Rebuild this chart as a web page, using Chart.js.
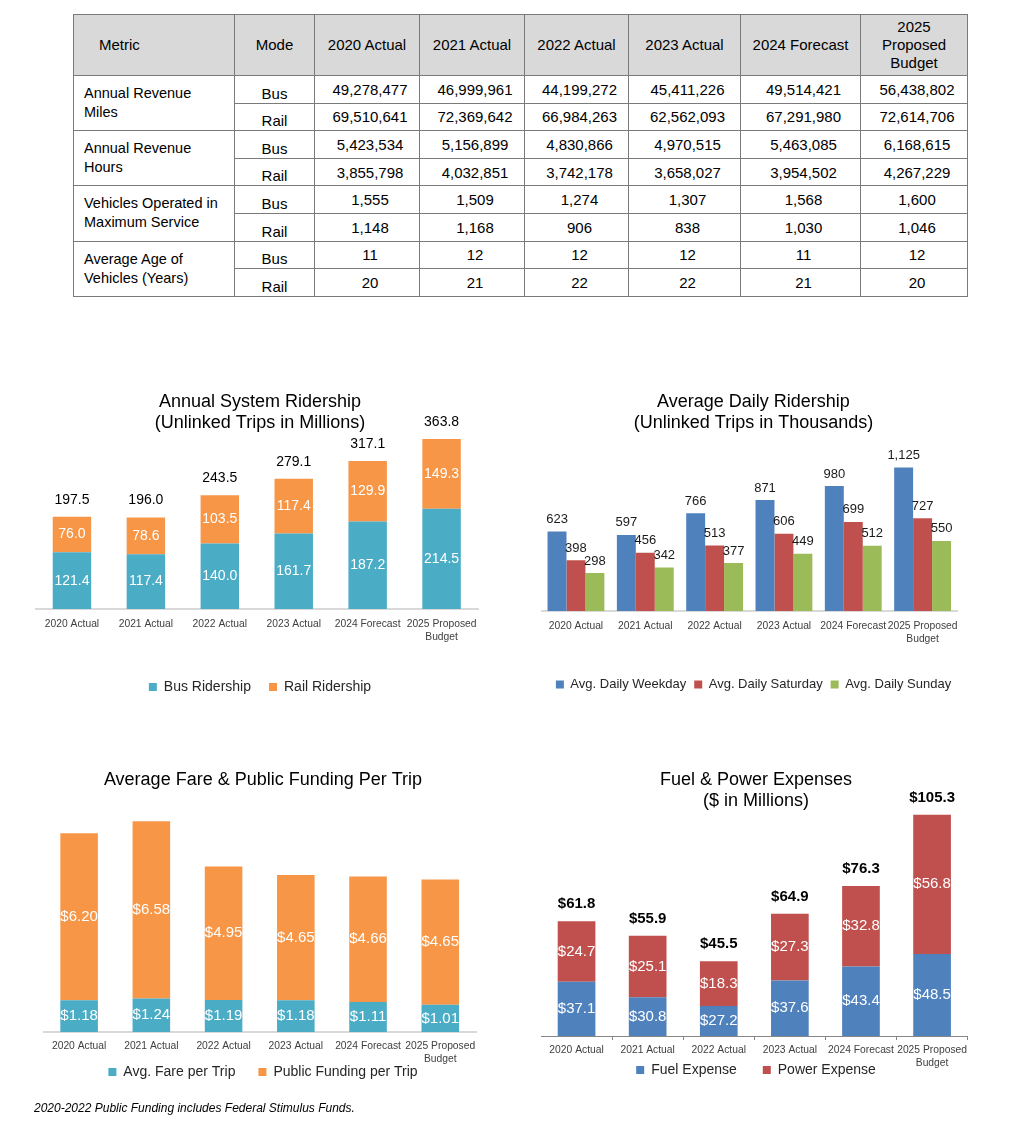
<!DOCTYPE html>
<html>
<head>
  <meta charset="UTF-8">
  <title>Service Metrics &amp; Ridership</title>
  <script src="https://cdn.jsdelivr.net/npm/chart.js"></script>
  <style>
    body {
      margin: 0;
      background: #fff;
      color: #000;
      font-family: 'Liberation Sans', Arial, sans-serif;
    }
    .page {
      position: relative;
      width: 1016px;
      height: 1142px;
    }
    table.metrics {
      position: absolute;
      left: 73px;
      top: 14px;
      width: 894px;
      border-collapse: collapse;
      table-layout: fixed;
      font-size: 15px;
    }
    table.metrics th, table.metrics td {
      border: 1.5px solid #7a7a7a;
      padding: 0;
      text-align: center;
      font-weight: normal;
    }
    table.metrics th {
      background: #d9d9d9;
      height: 60px;
      line-height: 18px;
      padding: 0 6px;
    }
    table.metrics th.metric-h { text-align: left; padding-left: 25px; }
    table.metrics tr.body-row { height: 27.6px; }
    table.metrics td.metric {
      text-align: left;
      padding-left: 10px;
      font-size: 14.5px;
      line-height: 19px;
      white-space: pre-line;
    }
    table.metrics td.mode { vertical-align: bottom; padding-bottom: 1px; }
    table.metrics td.val { padding-left: 6px; }
    .box { position: absolute; }
    .note {
      position: absolute;
      left: 34px;
      top: 1101px;
      font-size: 12px;
      font-style: italic;
      color: #000;
    }
  </style>
</head>
<body>
<div class="page">
  <table class="metrics">
    <colgroup>
      <col style="width:161px"><col style="width:80px"><col style="width:105px"><col style="width:105px">
      <col style="width:104px"><col style="width:112px"><col style="width:120px"><col style="width:107px">
    </colgroup>
    <thead id="metricsHead"></thead>
    <tbody id="metricsBody"></tbody>
  </table>

  <div class="box" style="left:35px; top:385px; width:450px; height:319px;"><canvas id="ridership"></canvas></div>
  <div class="box" style="left:541px; top:385px; width:425px; height:316px;"><canvas id="daily"></canvas></div>
  <div class="box" style="left:43px; top:763px; width:440px; height:352px;"><canvas id="fare"></canvas></div>
  <div class="box" style="left:541px; top:763px; width:430px; height:359px;"><canvas id="fuel"></canvas></div>

  <div class="note">2020-2022 Public Funding includes Federal Stimulus Funds.</div>
</div>

<script>
  // table
  const tableYears = ['2020 Actual', '2021 Actual', '2022 Actual', '2023 Actual', '2024 Forecast', '2025 Proposed Budget'];
  const metricNames = ['Annual Revenue\nMiles', 'Annual Revenue\nHours', 'Vehicles Operated in\nMaximum Service', 'Average Age of\nVehicles (Years)'];
  const busMiles = [49278477, 46999961, 44199272, 45411226, 49514421, 56438802];
  const railMiles = [69510641, 72369642, 66984263, 62562093, 67291980, 72614706];
  const busHours = [5423534, 5156899, 4830866, 4970515, 5463085, 6168615];
  const railHours = [3855798, 4032851, 3742178, 3658027, 3954502, 4267229];
  const busVehicles = [1555, 1509, 1274, 1307, 1568, 1600];
  const railVehicles = [1148, 1168, 906, 838, 1030, 1046];
  const busAge = [11, 12, 12, 12, 11, 12];
  const railAge = [20, 21, 22, 22, 21, 20];

  // charts
  const categories = ['2020 Actual', '2021 Actual', '2022 Actual', '2023 Actual', '2024 Forecast', '2025 Proposed Budget'];
  const tickLabels = ['2020 Actual', '2021 Actual', '2022 Actual', '2023 Actual', '2024 Forecast', ['2025 Proposed', 'Budget']];

  const busRidership = [121.4, 117.4, 140.0, 161.7, 187.2, 214.5];
  const railRidership = [76.0, 78.6, 103.5, 117.4, 129.9, 149.3];
  const ridershipTotals = [197.5, 196.0, 243.5, 279.1, 317.1, 363.8];

  const weekdayRiders = [623, 597, 766, 871, 980, 1125];
  const saturdayRiders = [398, 456, 513, 606, 699, 727];
  const sundayRiders = [298, 342, 377, 449, 512, 550];

  const avgFare = [1.18, 1.24, 1.19, 1.18, 1.11, 1.01];
  const publicFunding = [6.20, 6.58, 4.95, 4.65, 4.66, 4.65];

  const fuelExpense = [37.1, 30.8, 27.2, 37.6, 43.4, 48.5];
  const powerExpense = [24.7, 25.1, 18.3, 27.3, 32.8, 56.8];
  const fuelPowerTotals = [61.8, 55.9, 45.5, 64.9, 76.3, 105.3];

  const FONT = "'Liberation Sans', Arial, sans-serif";
  const TEAL = '#4bacc6', ORANGE = '#f79646', BLUE = '#4f81bd', RED = '#c0504d', GREEN = '#9bbb59';

  // build the table
  let head = '<tr><th class="metric-h">Metric</th><th>Mode</th>';
  tableYears.forEach(y => head += '<th>' + y + '</th>');
  document.getElementById('metricsHead').innerHTML = head + '</tr>';
  const groups = [[busMiles, railMiles], [busHours, railHours], [busVehicles, railVehicles], [busAge, railAge]];
  let body = '';
  groups.forEach((g, i) => {
    ['Bus', 'Rail'].forEach((mode, k) => {
      body += '<tr class="body-row">';
      if (k === 0) body += '<td class="metric" rowspan="2">' + metricNames[i] + '</td>';
      body += '<td class="mode">' + mode + '</td>';
      g[k].forEach(v => body += '<td class="val">' + v.toLocaleString('en-US') + '</td>');
      body += '</tr>';
    });
  });
  document.getElementById('metricsBody').innerHTML = body;

  // draws value labels on bars (inside = centred in segment, otherwise above)
  function valueLabels(sets, totals) {
    return {
      id: 'valueLabels',
      afterDatasetsDraw(chart) {
        const ctx = chart.ctx;
        ctx.save();
        ctx.textAlign = 'center';
        ctx.textBaseline = 'middle';
        sets.forEach((s, i) => {
          if (!s) return;
          const meta = chart.getDatasetMeta(i);
          ctx.font = s.font;
          ctx.fillStyle = s.color;
          meta.data.forEach((bar, j) => {
            const p = bar.getProps(['x', 'y', 'base'], true);
            const y = s.inside ? (p.y + p.base) / 2 : p.y - s.offset;
            ctx.fillText(s.format(chart.data.datasets[i].data[j]), p.x, y);
          });
        });
        if (totals) {
          const meta = chart.getDatasetMeta(chart.data.datasets.length - 1);
          ctx.font = totals.font;
          ctx.fillStyle = totals.color;
          meta.data.forEach((bar, j) => {
            const p = bar.getProps(['x', 'y'], true);
            ctx.fillText(totals.format(totals.values[j]), p.x, p.y - totals.offset);
          });
        }
        ctx.restore();
      }
    };
  }

  // moves the legend so its row is centred on y (canvas px), overlapping the axis labels like the original
  function legendAt(y) {
    return {
      id: 'legendAt',
      afterLayout(chart) {
        const lg = chart.legend;
        const lab = lg.options.labels;
        const size = lab.font.size || 12;
        const cur = lg.top + lab.padding + Math.max(size, lab.boxHeight || size) / 2;
        const dy = y - cur;
        lg.top += dy;
        lg.bottom += dy;
      }
    };
  }

  function chartOptions(o) {
    return {
      responsive: true,
      maintainAspectRatio: false,
      animation: false,
      layout: { padding: 0 },
      plugins: {
        title: {
          display: true,
          text: o.title,
          color: '#000',
          font: { size: 18, family: FONT, weight: 'normal', lineHeight: 1.2 },
          padding: { top: 6, bottom: 0 }
        },
        legend: {
          position: 'bottom',
          labels: {
            boxWidth: 8,
            boxHeight: 8,
            padding: o.legendPad,
            color: '#262626',
            font: { size: o.legendSize, family: FONT }
          }
        },
        tooltip: { enabled: false }
      },
      scales: {
        x: {
          stacked: o.stacked,
          grid: o.ticks
            ? { display: true, drawOnChartArea: false, drawTicks: true, tickLength: 4, color: '#868686' }
            : { display: false, drawTicks: false },
          border: o.ticks ? { color: '#868686', width: 1 } : { color: '#d9d9d9', width: 2 },
          ticks: {
            color: '#404040',
            font: { size: 10.3, family: FONT, lineHeight: 1.27 },
            padding: o.tickPad,
            maxRotation: 0,
            autoSkip: false
          },
          afterFit: s => { s.height = o.axisHeight; }
        },
        y: { display: false, stacked: o.stacked, min: o.min || 0, max: o.max }
      }
    };
  }

  const fmt1 = v => v.toFixed(1);
  const fmtInt = v => v.toLocaleString('en-US');
  const fmtMoney2 = v => '$' + v.toFixed(2);
  const fmtMoney1 = v => '$' + v.toFixed(1);

  new Chart(document.getElementById('ridership'), {
    type: 'bar',
    data: {
      labels: tickLabels,
      datasets: [
        { label: 'Bus Ridership', data: busRidership, backgroundColor: TEAL, categoryPercentage: 0.52, barPercentage: 1 },
        { label: 'Rail Ridership', data: railRidership, backgroundColor: ORANGE, categoryPercentage: 0.52, barPercentage: 1 }
      ]
    },
    options: chartOptions({
      title: ['Annual System Ridership', '(Unlinked Trips in Millions)'],
      stacked: true, max: 374.3, axisHeight: 53, tickPad: 8.5, legendPad: 18, legendSize: 14
    }),
    plugins: [valueLabels(
      [{ inside: true, font: '14px ' + FONT, color: '#fff', format: fmt1 },
       { inside: true, font: '14px ' + FONT, color: '#fff', format: fmt1 }],
      { values: ridershipTotals, font: '14px ' + FONT, color: '#000', offset: 17, format: fmt1 }
    )]
  });

  new Chart(document.getElementById('daily'), {
    type: 'bar',
    data: {
      labels: tickLabels,
      datasets: [
        { label: 'Avg. Daily Weekday', data: weekdayRiders, backgroundColor: BLUE, categoryPercentage: 0.82, barPercentage: 1 },
        { label: 'Avg. Daily Saturday', data: saturdayRiders, backgroundColor: RED, categoryPercentage: 0.82, barPercentage: 1 },
        { label: 'Avg. Daily Sunday', data: sundayRiders, backgroundColor: GREEN, categoryPercentage: 0.82, barPercentage: 1 }
      ]
    },
    options: chartOptions({
      title: ['Average Daily Ridership', '(Unlinked Trips in Thousands)'],
      stacked: false, max: 1386.7, axisHeight: 59, tickPad: 8.5, legendPad: 8, legendSize: 13
    }),
    plugins: [valueLabels([
      { inside: false, offset: 12, font: '13px ' + FONT, color: '#1a1a1a', format: fmtInt },
      { inside: false, offset: 12, font: '13px ' + FONT, color: '#1a1a1a', format: fmtInt },
      { inside: false, offset: 12, font: '13px ' + FONT, color: '#1a1a1a', format: fmtInt }
    ])]
  });

  new Chart(document.getElementById('fare'), {
    type: 'bar',
    data: {
      labels: tickLabels,
      datasets: [
        { label: 'Avg. Fare per Trip', data: avgFare, backgroundColor: TEAL, categoryPercentage: 0.52, barPercentage: 1 },
        { label: 'Public Funding per Trip', data: publicFunding, backgroundColor: ORANGE, categoryPercentage: 0.52, barPercentage: 1 }
      ]
    },
    options: chartOptions({
      title: 'Average Fare & Public Funding Per Trip',
      stacked: true, max: 8.96, axisHeight: 36, tickPad: 7.8, legendPad: 23, legendSize: 14
    }),
    plugins: [
      valueLabels([
        { inside: true, font: '15px ' + FONT, color: '#fff', format: fmtMoney2 },
        { inside: true, font: '15px ' + FONT, color: '#fff', format: fmtMoney2 }
      ]),
      legendAt(1072 - 763)
    ]
  });

  new Chart(document.getElementById('fuel'), {
    type: 'bar',
    data: {
      labels: tickLabels,
      datasets: [
        { label: 'Fuel Expense', data: fuelExpense, backgroundColor: BLUE, base: 15, categoryPercentage: 0.53, barPercentage: 1 },
        { label: 'Power Expense', data: powerExpense, backgroundColor: RED, categoryPercentage: 0.53, barPercentage: 1 }
      ]
    },
    options: chartOptions({
      title: ['Fuel & Power Expenses', '($ in Millions)'],
      stacked: true, min: 15, max: 106.3, axisHeight: 36, tickPad: 4, legendPad: 26, legendSize: 14, ticks: true
    }),
    plugins: [
      valueLabels(
        [{ inside: true, font: '15px ' + FONT, color: '#fff', format: fmtMoney1 },
         { inside: true, font: '15px ' + FONT, color: '#fff', format: fmtMoney1 }],
        { values: fuelPowerTotals, font: 'bold 15px ' + FONT, color: '#000', offset: 17, format: fmtMoney1 }
      ),
      legendAt(1070 - 763)
    ]
  });
</script>
</body>
</html>
